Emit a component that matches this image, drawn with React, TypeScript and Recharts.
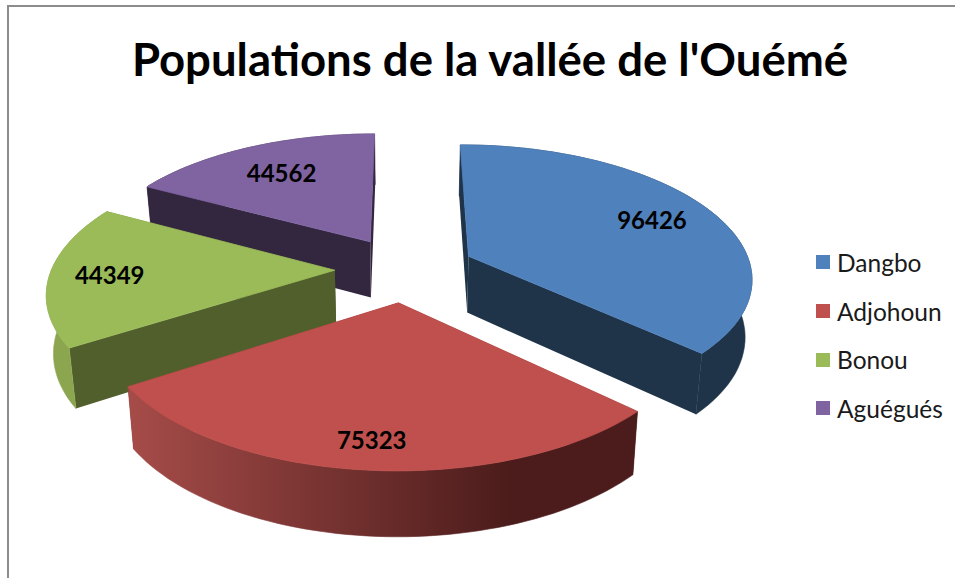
import { PieChart, Pie, Legend } from "recharts";

const categories = ["Dangbo", "Adjohoun", "Bonou", "Aguégués"];
const populations = [96426, 75323, 44349, 44562];
const topColors = ["#4f81bd", "#c0504d", "#9bbb59", "#8064a2"];
const sideColors = ["#1f3349", "#4b1c1b", "#505f2c", "#33273f"];
const rimFrom = ["#1f3349", "#a64c49", "#8ca650", "#33273f"];
const rimTo = ["#1f3349", "#4b1c1b", "#8ca650", "#33273f"];

// back to front, so the nearer slices cover the farther ones
const paintOrder = ["Aguégués", "Dangbo", "Bonou", "Adjohoun"];

const data = categories.map((name, i) => ({ name, value: populations[i], fill: topColors[i] }));

// fake 3D: the flat pie angles are projected onto a tilted disk
const CX = 405;
const CY = 269;
const RX = 283;
const RY = 131.6;
const PERSP = 0.15;
const EXPLODE = 0.248;
const DEPTH = 57;
const SHRINK = 0.98;
const LABEL_R = [0.76, 0.84, 0.79, 0.71];

const RAD = Math.PI / 180;

// angle is the recharts one (degrees, counter-clockwise from 3 o'clock)
const dir = (angle: number) => ({ x: Math.cos(angle * RAD), y: -Math.sin(angle * RAD) });

// point of slice "mid", at distance r from its exploded tip
function project(mid: number, angle: number, r: number) {
  const m = dir(mid);
  const d = dir(angle);
  const X = m.x * EXPLODE + d.x * r;
  const Y = m.y * EXPLODE + d.y * r;
  const f = 1 / (1 - PERSP * Y);
  return { x: CX + RX * X * f, y: CY + RY * Y * f, f };
}

function lower(p: { x: number; y: number; f: number }) {
  return { x: CX + (p.x - CX) * SHRINK, y: p.y + DEPTH * Math.pow(p.f, 0.7) };
}

const toPath = (pts: { x: number; y: number }[]) =>
  "M" + pts.map((p) => `${p.x.toFixed(1)},${p.y.toFixed(1)}`).join("L") + "Z";

function Slice3D(props: any) {
  const { startAngle, endAngle, name, fill } = props;
  const i = categories.indexOf(name);
  const mid = (startAngle + endAngle) / 2;
  const steps = 60;
  const rim = [];
  for (let s = 0; s <= steps; s++) {
    rim.push(project(mid, startAngle + ((endAngle - startAngle) * s) / steps, 1));
  }
  const apex = project(mid, mid, 0);
  const apexLow = lower(apex);
  const rimLow = rim.map(lower);
  const first = rim[0];
  const last = rim[rim.length - 1];
  const gradId = `rim-${i}`;
  return (
    <g>
      <defs>
        <linearGradient id={gradId} x1="0" y1="0" x2="1" y2="0">
          <stop offset="0" stopColor={rimFrom[i]} />
          <stop offset="0.75" stopColor={rimTo[i]} />
          <stop offset="1" stopColor={rimTo[i]} />
        </linearGradient>
      </defs>
      <path d={toPath([apex, first, lower(first), apexLow])} fill={sideColors[i]} />
      <path d={toPath([apex, last, lower(last), apexLow])} fill={sideColors[i]} />
      <path d={toPath([...rim, ...rimLow.slice().reverse()])} fill={`url(#${gradId})`} stroke={`url(#${gradId})`} strokeWidth={0.6} />
      <path d={toPath([apex, ...rim])} fill={fill} stroke={fill} strokeWidth={0.8} />
    </g>
  );
}

function renderValue(props: any, layer: string) {
  if (props.name !== layer) return null;
  const p = project(props.midAngle, props.midAngle, LABEL_R[categories.indexOf(layer)]);
  return (
    <text
      x={p.x}
      y={p.y}
      textAnchor="middle"
      dominantBaseline="central"
      fontFamily="Lato, sans-serif"
      fontWeight={700}
      fontSize={24}
      fill="#000"
    >
      {props.value}
    </text>
  );
}

function LegendList() {
  return (
    <div>
      {categories.map((name, i) => (
        <div key={name} style={{ display: "flex", alignItems: "center", height: 48.7 }}>
          <span style={{ width: 14, height: 14, background: topColors[i], marginRight: 7 }} />
          <span style={{ fontFamily: "Lato, sans-serif", fontSize: 24.5, color: "#1a1a1a" }}>{name}</span>
        </div>
      ))}
    </div>
  );
}

export default function App() {
  return (
    <div style={{ position: "absolute", left: 0, top: 0, width: 955, height: 578, overflow: "hidden", background: "#fff" }}>
      <div
        style={{
          position: "absolute",
          left: 7,
          top: 5,
          width: 960,
          height: 600,
          borderTop: "2px solid #8c8c8c",
          borderLeft: "2px solid #8c8c8c",
        }}
      />
      <div style={{ position: "absolute", left: 0, top: 0 }}>
        <PieChart width={955} height={578}>
          <text
            x={490}
            y={58}
            textAnchor="middle"
            dominantBaseline="central"
            fontFamily="Lato, sans-serif"
            fontWeight={700}
            fontSize={45.5}
            fill="#000"
          >
            Populations de la vallée de l'Ouémé
          </text>
          {paintOrder.map((layer) => (
            <Pie
              key={layer}
              data={data}
              dataKey="value"
              nameKey="name"
              cx={CX}
              cy={CY}
              outerRadius={200}
              startAngle={90}
              endAngle={-270}
              paddingAngle={0}
              stroke="none"
              isAnimationActive={false}
              labelLine={false}
              label={(p: any) => renderValue(p, layer)}
              shape={(p: any) => (p.name === layer ? <Slice3D {...p} /> : <g />)}
              inactiveShape={(p: any) => (p.name === layer ? <Slice3D {...p} /> : <g />)}
            />
          ))}
          <Legend
            layout="vertical"
            align="right"
            verticalAlign="top"
            content={<LegendList />}
            wrapperStyle={{ left: 816, top: 238, right: "auto", width: 139 }}
          />
        </PieChart>
      </div>
    </div>
  );
}
